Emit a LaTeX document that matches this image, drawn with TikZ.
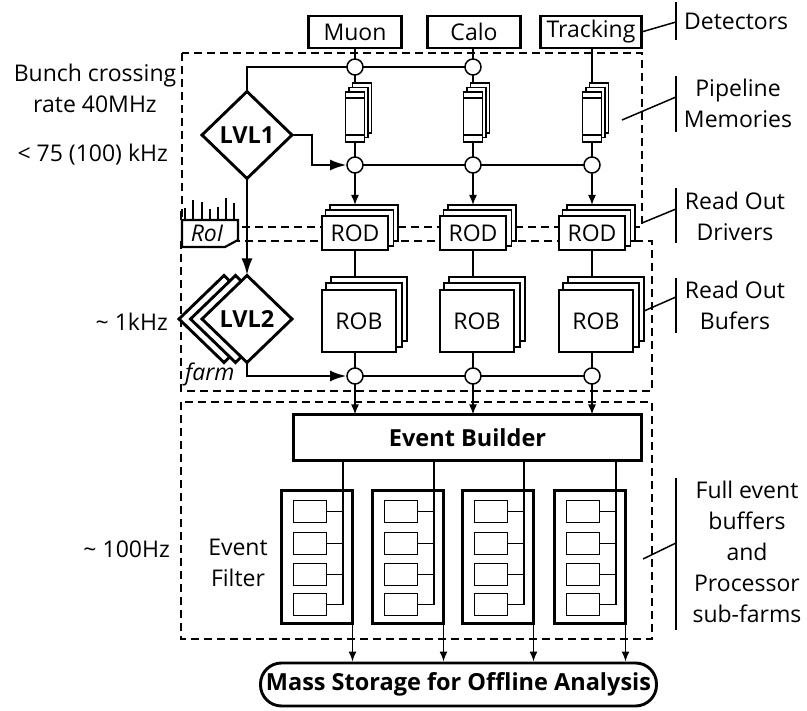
\documentclass[tikz,border=0pt]{standalone}
\usepackage{fontspec}
\setmainfont{Open Sans}
\usetikzlibrary{arrows.meta,shapes.geometric,calc}
\newcommand\dsz{\fontsize{23}{31}\selectfont}
\newcommand\bsz{\fontsize{23.5}{31}\selectfont\bfseries}
\begin{document}
\begin{tikzpicture}[x=1pt,y=-1pt,
  every node/.style={font=\dsz},
  box/.style={draw,fill=white,inner sep=0pt,outer sep=0pt},
  thickbox/.style={box,line width=2.9pt},
  thinbox/.style={box,line width=1.5pt},
  region/.style={line width=2.1pt,dash pattern=on 8pt off 5pt},
  sig/.style={line width=2.9pt},
  wire/.style={line width=1.5pt},
  junction/.style={circle,draw,fill=white,line width=1.5pt,minimum size=16pt,inner sep=0pt,outer sep=0pt},
  arr/.style={-{Latex[length=10pt,width=8pt]}},
  bigarr/.style={-{Latex[length=17pt,width=11pt]}},
  lbl/.style={align=center,inner sep=0pt},
  trig/.style={diamond,draw,fill=white,line width=2.9pt,inner sep=0pt,outer sep=0pt,minimum width=90pt,minimum height=87pt,font=\bsz},
  bar/.style={line width=1.5pt},
]
\useasboundingbox (0,0) rectangle (807,711);
% regions
\draw[region] (182,53) rectangle (642,227);
\draw[region] (181,241) rectangle (652,391);
\draw[region] (181,402) rectangle (652,639);
% detectors
\node[thickbox,minimum width=93pt,minimum height=32pt] (muon) at (355,32) {Muon};
\node[thickbox,minimum width=93pt,minimum height=32pt] (calo) at (474,32) {Calo};
\node[thickbox,minimum width=101pt,minimum height=32pt] (track) at (591,32) {Tracking};
% junctions
\foreach \c/\n in {355/M,473/C,592/T}{
  \node[junction] (m\n) at (\c,165) {};
  \node[junction] (b\n) at (\c,376) {};
}
\node[junction] (tM) at (355,67) {};
\node[junction] (tC) at (473,67) {};
% triggers
\node[trig] (lvl1) at (247,135) {LVL1};
\node[trig] (l2b) at (224,319) {};
\node[trig] (l2a) at (235.5,319) {};
\node[trig] (lvl2) at (247,319) {LVL2};
% stacks
\foreach \c/\n in {355/M,473/C,592/T}{
  \node[thinbox,minimum width=19pt,minimum height=50pt] (pipe\n2) at (\c+7,108) {};
  \node[thinbox,minimum width=19pt,minimum height=50pt] (pipe\n1) at (\c+3.5,112.5) {};
  \node[thinbox,minimum width=19pt,minimum height=50pt] (pipe\n) at (\c,117) {};
  \draw[wire] ($(pipe\n.north west)+(0,6)$) -- ($(pipe\n.north east)+(0,6)$);
  \draw[wire] ($(pipe\n.south west)+(0,-7)$) -- ($(pipe\n.south east)+(0,-7)$);
  \draw[wire] (pipe\n.south) -- (m\n.north);
  \node[thinbox,minimum width=68pt,minimum height=36pt] (rod\n2) at (\c+9,223) {};
  \node[thinbox,minimum width=68pt,minimum height=36pt] (rod\n1) at (\c+4.5,228) {};
  \node[thickbox,minimum width=66pt,minimum height=34pt] (rod\n) at (\c,233) {ROD};
  \draw[wire,arr] (m\n.south) -- (m\n.south |- rod\n2.north);
  \node[thinbox,minimum width=76pt,minimum height=64pt] (rob\n2) at (\c+14,309) {};
  \node[thinbox,minimum width=76pt,minimum height=64pt] (rob\n1) at (\c+9,315) {};
  \node[thickbox,minimum width=74pt,minimum height=62pt] (rob\n) at (\c+4,321) {ROB};
  \draw[wire] (rod\n.south) -- (rod\n.south |- rob\n2.north);
  \draw[wire] (b\n.north |- rob\n.south) -- (b\n.north);
}
% detector to pipelines
\draw[wire] (muon.south) -- (tM.north);
\draw[wire] (tC.north |- calo.south) -- (tC.north);
\draw[wire] (tM.south) -- (tM.south |- pipeM2.north);
\draw[wire] (tC.south) -- (tC.south |- pipeC2.north);
\draw[wire] (mT.north |- track.south) -- (mT.north |- pipeT2.north);
% LVL1 lines
\draw[sig] (lvl1.north) |- (tM.west);
\draw[sig] (tM.east) -- (tC.west);
\draw[sig,bigarr] (lvl1.east) -- ++(20,0) |- (mM.west);
\draw[sig] (mM.east) -- (mC.west);
\draw[sig] (mC.east) -- (mT.west);
\draw[sig,bigarr] (lvl1.south) -- (lvl2.north);
% RoI
\foreach \x/\y in {181/211,185/208,193/200,202/202,210/209,218/207,226/198,234/203}
  \draw[wire] (\x,220) -- (\x,\y);
\draw[line width=2.2pt,fill=white] (182,220) -- (238,220) -- (238,240) -- (225,247) -- (182,247) -- cycle;
\node[font=\dsz\itshape] (roi) at (207,233) {RoI};
% LVL2 lines
\draw[sig,bigarr] (lvl2.south) |- (bM.west);
\draw[sig] (bM.east) -- (bC.west);
\draw[sig] (bC.east) -- (bT.west);
\node[lbl,anchor=west,font=\dsz\itshape] (farm) at (185,374) {farm};
% event builder
\node[thickbox,minimum width=348pt,minimum height=46pt,font=\bsz] (eb) at (467.5,437.5) {Event Builder};
\foreach \n in {M,C,T}
  \draw[wire,arr] (b\n.south) -- (b\n.south |- eb.north);
% mass storage
\node[draw,line width=2.9pt,rounded corners=21pt,minimum width=396pt,minimum height=43pt,inner sep=0pt,font=\bsz] (ms) at (458.5,684.5) {Mass Storage for Offline Analysis};
% sub-farms
\foreach \l/\n in {280/1,371/2,461/3,553/4}{
  \node[thickbox,minimum width=71pt,minimum height=133pt] (sf\n) at (\l+37,557) {};
  \foreach \y/\k in {511.5/a,543.5/b,574.5/c,604.5/d}{
    \node[thinbox,minimum width=33pt,minimum height=22pt] (sf\n\k) at (\l+30,\y) {};
    \draw[wire] (sf\n\k.east) -- +(16.5,0);
  }
  \coordinate (bus\n) at (\l+63,604.5);
  \draw[wire] (bus\n |- eb.south) -- (bus\n);
  \draw[wire,arr] (sf\n.south east) -- (sf\n.south east |- ms.north);
}
% right labels
\node[lbl,anchor=west] (detl) at (684,21) {Detectors};
\draw[bar] (676,2) -- (676,40);
\coordinate (detc) at (676,22);
\draw[wire] (track.east) -- (detc);
\node[lbl] (pml) at (738,103) {Pipeline\\Memories};
\draw[bar] (676,76) -- (676,132);
\coordinate (pmA) at (622,120); \coordinate (pmB) at (676,97);
\draw[wire] (pmA) -- (pmB);
\node[lbl] (rodl) at (735,216) {Read Out\\Drivers};
\draw[bar] (676,188) -- (676,243);
\coordinate (rdA) at (642,223); \coordinate (rdB) at (676,209);
\draw[wire] (rdA) -- (rdB);
\node[lbl] (robl) at (735,305) {Read Out\\Bufers};
\draw[bar] (676,278) -- (676,333);
\coordinate (rbA) at (644,311); \coordinate (rbB) at (676,297);
\draw[wire] (rbA) -- (rbB);
\node[lbl] (fel) at (747,552) {Full event\\buffers\\and\\Processor\\sub-farms};
\draw[bar] (676,478) -- (676,630);
\coordinate (feA) at (643,559); \coordinate (feB) at (676,543);
\draw[wire] (feA) -- (feB);
% left labels
\node[lbl] (bcl) at (95,88) {Bunch crossing\\rate 40MHz};
\node[lbl,anchor=east] (r1) at (168,155) {< 75 (100) kHz};
\node[lbl,anchor=east] (r2) at (168,322) {\textasciitilde\ 1kHz};
\node[lbl,anchor=east] (r3) at (170,549) {\textasciitilde\ 100Hz};
\node[lbl] (efl) at (238,563) {Event\\Filter};
\end{tikzpicture}
\end{document}
